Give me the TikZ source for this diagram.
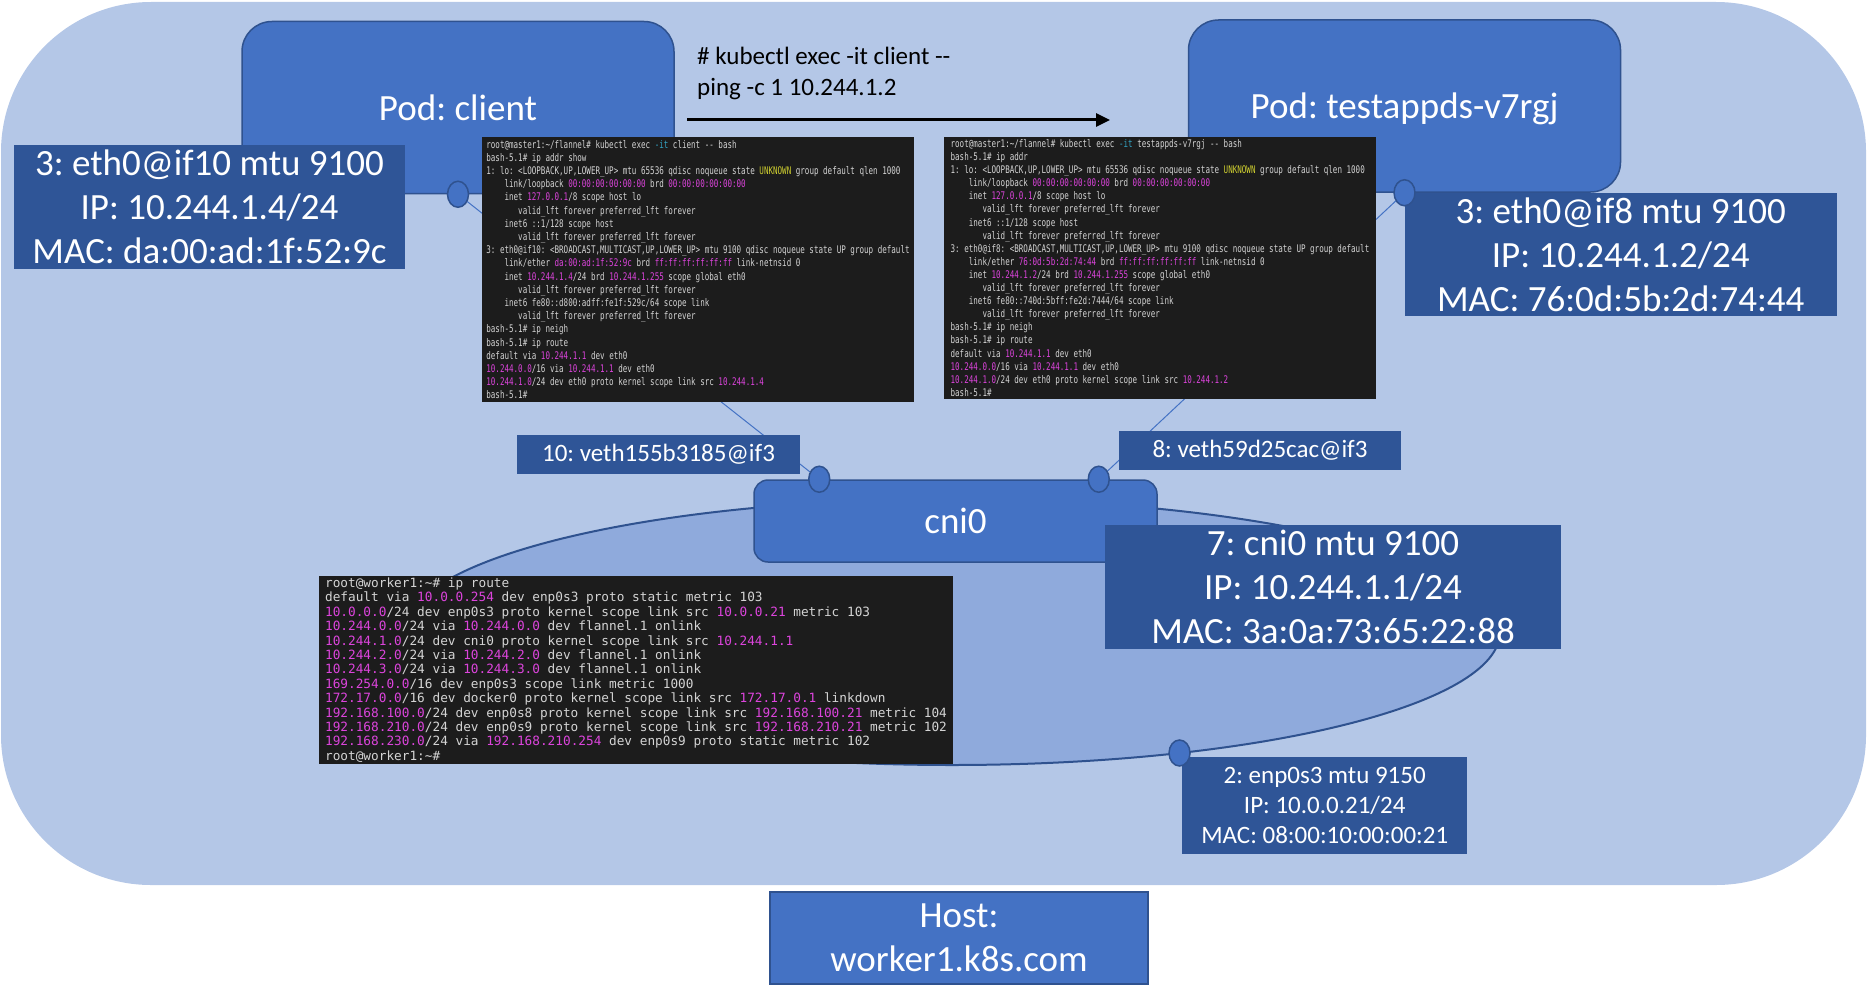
\documentclass[tikz,border=0pt]{standalone}
\usepackage{fontspec}
\setmainfont{Carlito}
\newfontfamily\termfont{DejaVu Sans Mono}
\newfontfamily\termnarrow[FakeStretch=0.72]{DejaVu Sans Mono}
\usetikzlibrary{positioning, shapes, arrows.meta}
\definecolor{hostbg}{HTML}{B4C7E7}
\definecolor{netbg}{HTML}{8FAADC}
\definecolor{podblue}{HTML}{4472C4}
\definecolor{podline}{HTML}{2F528F}
\definecolor{infoblue}{HTML}{2F5597}
\definecolor{termbg}{HTML}{1C1C1C}
\definecolor{termfg}{HTML}{D4D4D4}
\definecolor{termip}{HTML}{DC44DC}
\definecolor{termunk}{HTML}{CFCF30}
\definecolor{termopt}{HTML}{33A4C4}
\newcommand{\ipc}[1]{\textcolor{termip}{#1}}
\newcommand{\unk}[1]{\textcolor{termunk}{#1}}
\newcommand{\opt}[1]{\textcolor{termopt}{#1}}
\frenchspacing

\begin{document}
\begin{tikzpicture}[x=1pt, y=-1pt,
  pod/.style={draw=podline, line width=1.5pt, fill=podblue, text=white, rounded corners=30pt, minimum width=432pt, minimum height=172pt, text depth=0pt, font=\fontsize{37}{44}\selectfont},
  info/.style={fill=infoblue, text=white, align=center, inner sep=0pt, font=\fontsize{37}{44}\selectfont},
  small/.style={font=\fontsize{25}{30}\selectfont},
  port/.style={ellipse, draw=podline, line width=1.5pt, fill=podblue, minimum width=21pt, minimum height=26pt, inner sep=0pt},
  term/.style={fill=termbg, text=termfg, align=left, inner sep=0pt},
  wire/.style={draw=podblue, line width=1pt},
  ]
  \useasboundingbox (0,0) rectangle (1867,1006);
  \node[fill=hostbg, rounded corners=150pt, minimum width=1865pt, minimum height=883pt, inner sep=0pt] (worker) at (933.5,443.5) {};

  \node[pod] (client) at (458,107.5) {Pod: client};
  \node[pod] (testapp) at (1404.5,106) {Pod: testappds-v7rgj};

  \node[align=left, anchor=west, inner sep=0pt, font=\fontsize{25}{31}\selectfont] (ping) at (697,73.5) {\# kubectl exec -it client -{}-\\ping -c 1 10.244.1.2};
  \coordinate (pingA) at (687,120);
  \coordinate (pingB) at (1110,120);
  \draw[line width=3pt, -{Triangle[length=14pt,width=13pt]}] (pingA) -- (pingB);

  \node[ellipse, draw=podline, line width=2pt, fill=netbg, minimum width=1096pt, minimum height=266pt, inner sep=0pt, outer sep=0pt] (net) at (952,632) {};
  \node[draw=podline, line width=1.5pt, fill=podblue, text=white, rounded corners=14pt, minimum width=403pt, minimum height=82pt, font=\fontsize{37}{44}\selectfont] (cni) at (955.5,521) {cni0};
  \coordinate (cniA) at ([xshift=66pt]cni.north west);
  \coordinate (cniB) at ([xshift=-59pt]cni.north east);

  % veth pairs
  \draw[wire] (client.south) -- (cniA);
  \draw[wire] (testapp.south) -- (cniB);

  \node[term, minimum width=432pt, minimum height=265pt, font=\termnarrow\fontsize{10.5}{13.2}\selectfont] (clientterm) at (698,269.5) {%
root@master1:\textasciitilde/flannel\# kubectl exec \opt{-it} client -{}- bash\\
bash-5.1\# ip addr show\\
1: lo: <LOOPBACK,UP,LOWER\_UP> mtu 65536 qdisc noqueue state \unk{UNKNOWN} group default qlen 1000\\
\ \ \ \ link/loopback \ipc{00:00:00:00:00:00} brd \ipc{00:00:00:00:00:00}\\
\ \ \ \ inet \ipc{127.0.0.1}/8 scope host lo\\
\ \ \ \ \ \ \ valid\_lft forever preferred\_lft forever\\
\ \ \ \ inet6 ::1/128 scope host\\
\ \ \ \ \ \ \ valid\_lft forever preferred\_lft forever\\
3: eth0@if10: <BROADCAST,MULTICAST,UP,LOWER\_UP> mtu 9100 qdisc noqueue state UP group default\\
\ \ \ \ link/ether \ipc{da:00:ad:1f:52:9c} brd \ipc{ff:ff:ff:ff:ff:ff} link-netnsid 0\\
\ \ \ \ inet \ipc{10.244.1.4}/24 brd \ipc{10.244.1.255} scope global eth0\\
\ \ \ \ \ \ \ valid\_lft forever preferred\_lft forever\\
\ \ \ \ inet6 fe80::d800:adff:fe1f:529c/64 scope link\\
\ \ \ \ \ \ \ valid\_lft forever preferred\_lft forever\\
bash-5.1\# ip neigh\\
bash-5.1\# ip route\\
default via \ipc{10.244.1.1} dev eth0\\
\ipc{10.244.0.0}/16 via \ipc{10.244.1.1} dev eth0\\
\ipc{10.244.1.0}/24 dev eth0 proto kernel scope link src \ipc{10.244.1.4}\\
bash-5.1\#};
  \node[term, minimum width=432pt, minimum height=262pt, font=\termnarrow\fontsize{10.5}{13.1}\selectfont] (testterm) at (1160,268) {%
root@master1:\textasciitilde/flannel\# kubectl exec \opt{-it} testappds-v7rgj -{}- bash\\
bash-5.1\# ip addr\\
1: lo: <LOOPBACK,UP,LOWER\_UP> mtu 65536 qdisc noqueue state \unk{UNKNOWN} group default qlen 1000\\
\ \ \ \ link/loopback \ipc{00:00:00:00:00:00} brd \ipc{00:00:00:00:00:00}\\
\ \ \ \ inet \ipc{127.0.0.1}/8 scope host lo\\
\ \ \ \ \ \ \ valid\_lft forever preferred\_lft forever\\
\ \ \ \ inet6 ::1/128 scope host\\
\ \ \ \ \ \ \ valid\_lft forever preferred\_lft forever\\
3: eth0@if8: <BROADCAST,MULTICAST,UP,LOWER\_UP> mtu 9100 qdisc noqueue state UP group default\\
\ \ \ \ link/ether \ipc{76:0d:5b:2d:74:44} brd \ipc{ff:ff:ff:ff:ff:ff} link-netnsid 0\\
\ \ \ \ inet \ipc{10.244.1.2}/24 brd \ipc{10.244.1.255} scope global eth0\\
\ \ \ \ \ \ \ valid\_lft forever preferred\_lft forever\\
\ \ \ \ inet6 fe80::740d:5bff:fe2d:7444/64 scope link\\
\ \ \ \ \ \ \ valid\_lft forever preferred\_lft forever\\
bash-5.1\# ip neigh\\
bash-5.1\# ip route\\
default via \ipc{10.244.1.1} dev eth0\\
\ipc{10.244.0.0}/16 via \ipc{10.244.1.1} dev eth0\\
\ipc{10.244.1.0}/24 dev eth0 proto kernel scope link src \ipc{10.244.1.2}\\
bash-5.1\#};
  \node[term, minimum width=634pt, minimum height=188pt, font=\termfont\fontsize{12.75}{14.4}\selectfont] (hostterm) at (636,670) {%
root@worker1:\textasciitilde\# ip route\\
default via \ipc{10.0.0.254} dev enp0s3 proto static metric 103\\
\ipc{10.0.0.0}/24 dev enp0s3 proto kernel scope link src \ipc{10.0.0.21} metric 103\\
\ipc{10.244.0.0}/24 via \ipc{10.244.0.0} dev flannel.1 onlink\\
\ipc{10.244.1.0}/24 dev cni0 proto kernel scope link src \ipc{10.244.1.1}\\
\ipc{10.244.2.0}/24 via \ipc{10.244.2.0} dev flannel.1 onlink\\
\ipc{10.244.3.0}/24 via \ipc{10.244.3.0} dev flannel.1 onlink\\
\ipc{169.254.0.0}/16 dev enp0s3 scope link metric 1000\\
\ipc{172.17.0.0}/16 dev docker0 proto kernel scope link src \ipc{172.17.0.1} linkdown\\
\ipc{192.168.100.0}/24 dev enp0s8 proto kernel scope link src \ipc{192.168.100.21} metric 104\\
\ipc{192.168.210.0}/24 dev enp0s9 proto kernel scope link src \ipc{192.168.210.21} metric 102\\
\ipc{192.168.230.0}/24 via \ipc{192.168.210.254} dev enp0s9 proto static metric 102\\
root@worker1:\textasciitilde\#};

  \node[info, minimum width=391pt, minimum height=124pt] (clientif) at (209.5,207) {3: eth0@if10 mtu 9100\\IP: 10.244.1.4/24\\MAC: da:00:ad:1f:52:9c};
  \node[info, minimum width=432pt, minimum height=123pt, anchor=north west] (testif) at (testapp.south) {3: eth0@if8 mtu 9100\\IP: 10.244.1.2/24\\MAC: 76:0d:5b:2d:74:44};
  \node[info, small, minimum width=283pt, minimum height=39pt] (vethA) at (658.5,454.5) {10: veth155b3185@if3};
  \node[info, small, minimum width=282pt, minimum height=39pt] (vethB) at (1260,450.5) {8: veth59d25cac@if3};
  \node[info, minimum width=456pt, minimum height=124pt] (cniif) at (1333,587) {7: cni0 mtu 9100\\IP: 10.244.1.1/24\\MAC: 3a:0a:73:65:22:88};
  \node[info, small, minimum width=285pt, minimum height=97pt, anchor=north west] (enpif) at (1182,757) {2: enp0s3 mtu 9150\\IP: 10.0.0.21/24\\MAC: 08:00:10:00:00:21};

  \node[port] (clientport) at (client.south) {};
  \node[port] (testport) at (testapp.south) {};
  \node[port] (vethportA) at (cniA) {};
  \node[port] (vethportB) at (cniB) {};
  \node[port] (enpport) at (net.-28.5) {};

  \node[draw=podline, line width=2pt, fill=podblue, text=white, align=center, inner sep=0pt, minimum width=378pt, minimum height=92pt, font=\fontsize{37}{44}\selectfont] (host) at (959,938) {Host:\\worker1.k8s.com};
\end{tikzpicture}
\end{document}
